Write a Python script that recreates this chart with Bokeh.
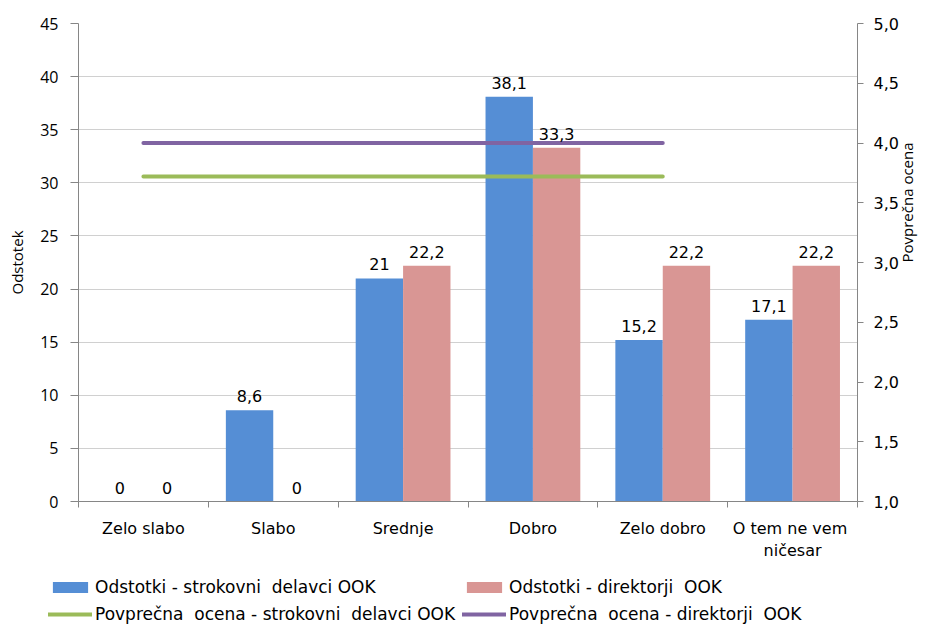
import math
import numpy as np
from bokeh.plotting import figure
from bokeh.layouts import column, row
from bokeh.models import (ColumnDataSource, Range1d, LinearAxis, FixedTicker,
                          Legend, LegendItem, LabelSet)
from bokeh.core.properties import value
from bokeh.embed import file_html
from bokeh.resources import INLINE

categories = ["Zelo slabo", "Slabo", "Srednje", "Dobro", "Zelo dobro", "O tem  ne vem\nničesar"]
strokovni = [0, 8.6, 21, 38.1, 15.2, 17.1]
direktorji = [0, 0, 22.2, 33.3, 22.2, 22.2]
strokovni_labels = ["0", "8,6", "21", "38,1", "15,2", "17,1"]
direktorji_labels = ["0", "0", "22,2", "33,3", "22,2", "22,2"]
avg_strokovni = [3.72, 3.72, 3.72, 3.72, 3.72]
avg_direktorji = [4.0, 4.0, 4.0, 4.0, 4.0]
left_ticks = [0, 5, 10, 15, 20, 25, 30, 35, 40, 45]
right_ticks = [1.0, 1.5, 2.0, 2.5, 3.0, 3.5, 4.0, 4.5, 5.0]
right_tick_labels = ["1,0", "1,5", "2,0", "2,5", "3,0", "3,5", "4,0", "4,5", "5,0"]

series_names = ["Odstotki - strokovni  delavci OOK", "Odstotki - direktorji  OOK",
                "Povprečna  ocena - strokovni  delavci OOK", "Povprečna  ocena - direktorji  OOK"]

BLUE = "#558ED5"
PINK = "#D99694"
GREEN = "#9BBB59"
PURPLE = "#8064A2"
AXIS = "#868686"
GRID = "#D0D0D0"

n = len(categories)
centers = np.arange(n) + 0.5
bw = 0.365

p = figure(width=929, height=565, output_backend="svg", toolbar_location=None,
           x_range=Range1d(0, n), y_range=Range1d(0, 45),
           min_border_left=78, min_border_right=67, min_border_top=23,
           min_border_bottom=64)
p.outline_line_color = None
p.background_fill_color = "white"
p.border_fill_color = "white"
p.extra_y_ranges = {"avg": Range1d(1.0, 5.0)}

src = ColumnDataSource(dict(
    xs=centers - bw / 2, xd=centers + bw / 2,
    ys=strokovni, yd=direktorji,
    ls=strokovni_labels, ld=direktorji_labels,
))
avg_src = ColumnDataSource(dict(x=centers[:len(avg_strokovni)],
                                g=avg_strokovni, v=avg_direktorji))

p.vbar(x="xs", top="ys", width=bw, bottom=0, source=src,
       fill_color=BLUE, line_color=None)
p.vbar(x="xd", top="yd", width=bw, bottom=0, source=src,
       fill_color=PINK, line_color=None)
p.line(x="x", y="g", source=avg_src, y_range_name="avg",
       line_color=GREEN, line_width=4, line_cap="round")
p.line(x="x", y="v", source=avg_src, y_range_name="avg",
       line_color=PURPLE, line_width=4, line_cap="round")

lab_font = "DejaVu Sans"
for xcol, ycol, tcol in (("xs", "ys", "ls"), ("xd", "yd", "ld")):
    ls = LabelSet(x=xcol, y=ycol, text=tcol, source=src, text_align="center",
                  text_baseline="bottom", y_offset=8, text_font=value(lab_font),
                  text_font_size="16px", text_color="#000000")
    p.add_layout(ls)

# x axis: labels at centers, ticks at category boundaries
xa = p.xaxis[0]
xa.ticker = FixedTicker(ticks=list(centers), minor_ticks=list(range(n + 1)))
xa.major_label_overrides = {float(c): lab for c, lab in zip(centers, categories)}
xa.major_tick_line_color = None
xa.minor_tick_line_color = AXIS
xa.minor_tick_out = 6
xa.minor_tick_in = 0
xa.axis_line_color = AXIS
xa.major_label_text_font = lab_font
xa.major_label_text_font_size = "16px"
xa.major_label_text_color = "#000000"
xa.major_label_standoff = 11

ya = p.yaxis[0]
ya.ticker = FixedTicker(ticks=left_ticks, minor_ticks=[])
ya.axis_line_color = AXIS
ya.major_tick_line_color = AXIS
ya.major_tick_out = 8
ya.major_tick_in = 0
ya.major_label_text_font = "Open Sans"
ya.major_label_text_font_size = "16px"
ya.major_label_text_color = "#000000"
ya.major_label_standoff = 12
ya.axis_label = "Odstotek"
ya.axis_label_text_font = "Open Sans"
ya.axis_label_text_font_size = "15px"
ya.axis_label_text_font_style = "normal"
ya.axis_label_text_color = "#000000"
ya.axis_label_standoff = 10

ra = LinearAxis(y_range_name="avg")
ra.ticker = FixedTicker(ticks=right_ticks, minor_ticks=[])
ra.major_label_overrides = {t: l for t, l in zip(right_ticks, right_tick_labels)}
ra.axis_line_color = AXIS
ra.major_tick_line_color = AXIS
ra.major_tick_out = 6
ra.major_tick_in = 0
ra.major_label_text_font = lab_font
ra.major_label_text_font_size = "16px"
ra.major_label_text_color = "#000000"
ra.major_label_standoff = 10
ra.axis_label = "Povprečna ocena"
ra.axis_label_text_font = "Open Sans"
ra.axis_label_text_font_size = "15px"
ra.axis_label_text_font_style = "normal"
ra.axis_label_text_color = "#000000"
ra.axis_label_standoff = 5
try:
    ra.axis_label_orientation = math.pi / 2
except Exception:
    pass
p.add_layout(ra, "right")

p.xgrid.grid_line_color = None
p.ygrid.grid_line_color = GRID
p.ygrid.grid_line_width = 1

# legend strip below the chart (proxy renderers sit outside its visible range)
q = figure(width=929, height=60, output_backend="svg", toolbar_location=None,
           x_range=Range1d(100, 101), y_range=Range1d(100, 101),
           x_axis_location=None, y_axis_location=None,
           min_border_left=48, min_border_right=0, min_border_top=12,
           min_border_bottom=0)
q.grid.visible = False
q.outline_line_color = None
k_s = q.vbar(x="xs", top="ys", width=bw, source=src, fill_color=BLUE, line_color=None)
k_d = q.vbar(x="xd", top="yd", width=bw, source=src, fill_color=PINK, line_color=None)
k_g = q.line(x="x", y="g", source=avg_src, line_color=GREEN, line_width=4, line_cap="round")
k_p = q.line(x="x", y="v", source=avg_src, line_color=PURPLE, line_width=4, line_cap="round")

legend = Legend(items=[
    LegendItem(label=series_names[0], renderers=[k_s]),
    LegendItem(label=series_names[2], renderers=[k_g]),
    LegendItem(label=series_names[1], renderers=[k_d]),
    LegendItem(label=series_names[3], renderers=[k_p]),
], ncols=2, location="top_left", orientation="vertical")
legend.border_line_color = None
legend.background_fill_alpha = 0
legend.padding = 0
legend.margin = 0
legend.spacing = 7
legend.glyph_width = 44
legend.glyph_height = 14
legend.label_standoff = 3
legend.label_height = 18
legend.label_text_font = lab_font
legend.label_text_font_size = "17px"
legend.label_text_color = "#000000"
q.add_layout(legend, "center")

open("out.html", "w").write(file_html(column(p, row(q)), INLINE))
